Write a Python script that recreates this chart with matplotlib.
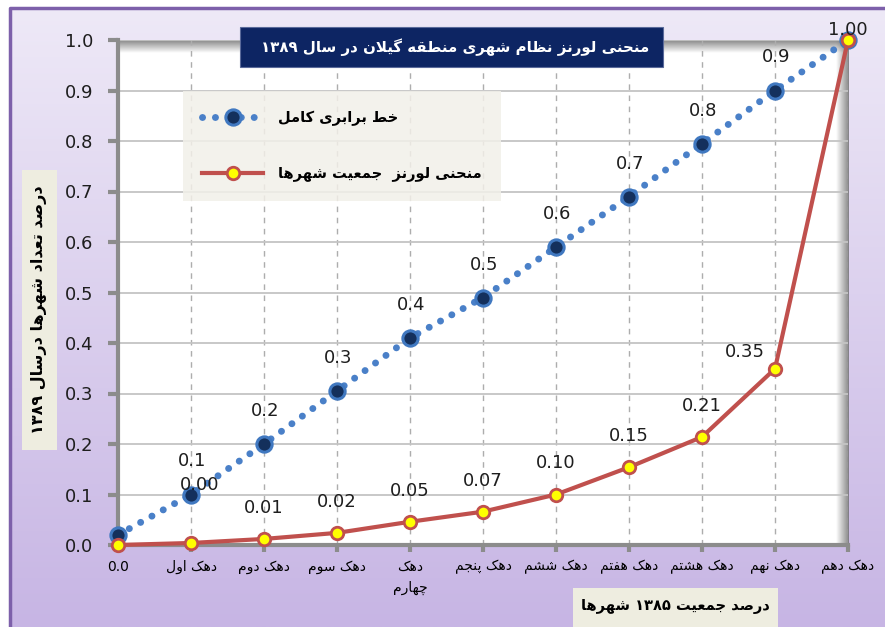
import re
import numpy as np
import matplotlib
matplotlib.use("Agg")
import matplotlib.pyplot as plt
from matplotlib.patches import Rectangle
from matplotlib.colors import LinearSegmentedColormap

# chart values
categories = ["0.0", "دهک اول", "دهک دوم", "دهک سوم", "دهک\nچهارم", "دهک پنجم",
              "دهک ششم", "دهک هفتم", "دهک هشتم", "دهک نهم", "دهک دهم"]
equality = [0.02, 0.10, 0.20, 0.305, 0.41, 0.49, 0.59, 0.69, 0.795, 0.90, 1.00]
lorenz = [0.0, 0.004, 0.012, 0.024, 0.046, 0.066, 0.10, 0.154, 0.214, 0.349, 1.00]
equality_labelled = [1, 2, 3, 4, 5, 6, 7, 8, 9]
lorenz_labelled = [1, 2, 3, 4, 5, 6, 7, 8, 9, 10]
yticks = [0.0, 0.1, 0.2, 0.3, 0.4, 0.5, 0.6, 0.7, 0.8, 0.9, 1.0]

title = "منحنی لورنز نظام شهری منطقه گیلان در سال ۱۳۸۹"
name_equality = "خط برابری کامل"
name_lorenz = "منحنی لورنز  جمعیت شهرها"
xlabel = "درصد جمعیت ۱۳۸۵ شهرها"
ylabel = "درصد تعداد شهرها درسال ۱۳۸۹"

# arabic presentation forms: isolated, final, initial, medial
FORMS = {
    'ا': (0xFE8D, 0xFE8E), 'آ': (0xFE81, 0xFE82),
    'ب': (0xFE8F, 0xFE90, 0xFE91, 0xFE92), 'پ': (0xFB56, 0xFB57, 0xFB58, 0xFB59),
    'ت': (0xFE95, 0xFE96, 0xFE97, 0xFE98), 'ث': (0xFE99, 0xFE9A, 0xFE9B, 0xFE9C),
    'ج': (0xFE9D, 0xFE9E, 0xFE9F, 0xFEA0), 'چ': (0xFB7A, 0xFB7B, 0xFB7C, 0xFB7D),
    'ح': (0xFEA1, 0xFEA2, 0xFEA3, 0xFEA4), 'خ': (0xFEA5, 0xFEA6, 0xFEA7, 0xFEA8),
    'د': (0xFEA9, 0xFEAA), 'ذ': (0xFEAB, 0xFEAC), 'ر': (0xFEAD, 0xFEAE),
    'ز': (0xFEAF, 0xFEB0), 'ژ': (0xFB8A, 0xFB8B),
    'س': (0xFEB1, 0xFEB2, 0xFEB3, 0xFEB4), 'ش': (0xFEB5, 0xFEB6, 0xFEB7, 0xFEB8),
    'ص': (0xFEB9, 0xFEBA, 0xFEBB, 0xFEBC), 'ط': (0xFEC1, 0xFEC2, 0xFEC3, 0xFEC4),
    'ظ': (0xFEC5, 0xFEC6, 0xFEC7, 0xFEC8), 'ع': (0xFEC9, 0xFECA, 0xFECB, 0xFECC),
    'ف': (0xFED1, 0xFED2, 0xFED3, 0xFED4), 'ق': (0xFED5, 0xFED6, 0xFED7, 0xFED8),
    'ک': (0xFB8E, 0xFB8F, 0xFB90, 0xFB91), 'گ': (0xFB92, 0xFB93, 0xFB94, 0xFB95),
    'ل': (0xFEDD, 0xFEDE, 0xFEDF, 0xFEE0), 'م': (0xFEE1, 0xFEE2, 0xFEE3, 0xFEE4),
    'ن': (0xFEE5, 0xFEE6, 0xFEE7, 0xFEE8), 'ه': (0xFEE9, 0xFEEA, 0xFEEB, 0xFEEC),
    'و': (0xFEED, 0xFEEE), 'ی': (0xFBFC, 0xFBFD, 0xFBFE, 0xFBFF),
}


def shape_line(line):
    res = []
    i = 0
    n = len(line)
    while i < n:
        c = line[i]
        if c not in FORMS:
            res.append(c)
            i += 1
            continue
        prev = line[i - 1] if i > 0 else ''
        link_prev = prev in FORMS and len(FORMS[prev]) == 4
        if c == 'ل' and i + 1 < n and line[i + 1] == 'ا':
            res.append('\uFEFC' if link_prev else '\uFEFB')
            i += 2
            continue
        nxt = line[i + 1] if i + 1 < n else ''
        link_next = len(FORMS[c]) == 4 and nxt in FORMS
        f = FORMS[c]
        if link_prev and link_next:
            g = f[3]
        elif link_prev:
            g = f[1]
        elif link_next:
            g = f[2]
        else:
            g = f[0]
        res.append(chr(g))
        i += 1
    s = ''.join(res)[::-1]
    # numbers stay left to right
    return re.sub(r'[0-9\u06F0-\u06F9.]+', lambda m: m.group(0)[::-1], s)


def fa(text):
    if not any(ch in FORMS for ch in text):
        return text
    return '\n'.join(shape_line(l) for l in text.split('\n'))


W, H = 885, 627


def fx(x):
    return x / W


def fy(y):
    return 1 - y / H


plt.rcParams['font.family'] = ['DejaVu Sans']
fig = plt.figure(figsize=(W / 100, H / 100), dpi=100)

# lavender background with purple border
bg = fig.add_axes([0, 0, 1, 1], zorder=-5)
bg.set_xlim(0, W)
bg.set_ylim(H, 0)
bg.axis('off')
grad = np.linspace(0, 1, 256)[:, None]
bg_cmap = LinearSegmentedColormap.from_list('bg', ['#eee9f7', '#c7b5e4'])
bg.imshow(grad, extent=(10, W, H, 8), aspect='auto', cmap=bg_cmap)
bg.plot([10, 10, W], [H, 8, 8], color='#7d60aa', lw=2.5, solid_capstyle='butt')

ax = fig.add_axes([fx(118), fy(545), (848 - 118) / W, (545 - 40) / H])
ax.set_facecolor('white')
x = np.arange(len(categories))

# 3d-ish shading along the top and right edges of the plot area
top_sh = np.zeros((60, 1, 4))
top_sh[..., :3] = 0.45
top_sh[:, 0, 3] = np.linspace(0.85, 0, 60)
ax.imshow(top_sh, extent=(0, 10, 0.975, 1.0), aspect='auto', zorder=0.3)
right_sh = np.zeros((1, 60, 4))
right_sh[..., :3] = 0.45
right_sh[0, :, 3] = np.linspace(0, 0.85, 60)
ax.imshow(right_sh, extent=(9.83, 10, 0, 1.0), aspect='auto', zorder=0.3)

ax.plot(x, equality, color='#4a80c8', lw=5, ls=(0, (0.01, 1.85)),
        dash_capstyle='round', marker='o', ms=11, mfc='#14305c',
        mec='#4078c0', mew=2.2, clip_on=False, zorder=3, label=fa(name_equality))
ax.plot(x, lorenz, color='#c0504d', lw=3, marker='o', ms=9, mfc='#ffff00',
        mec='#c0504d', mew=2, clip_on=False, zorder=4, label=fa(name_lorenz))

lorenz_offsets = {1: (9, 58), 9: (-30, 17), 10: (0, 10)}
for i in equality_labelled:
    ax.annotate('{:.1f}'.format(equality[i]), (x[i], equality[i]), xytext=(1, 33),
                textcoords='offset pixels', ha='center', va='center',
                fontsize=13, color='#1e1e1e', zorder=5)
for i in lorenz_labelled:
    ax.annotate('{:.2f}'.format(lorenz[i]), (x[i], lorenz[i]),
                xytext=lorenz_offsets.get(i, (0, 31)),
                textcoords='offset pixels', ha='center', va='center',
                fontsize=13, color='#1e1e1e', zorder=5, annotation_clip=False)

ax.set_xlim(0, 10)
ax.set_ylim(0, 1)
ax.set_xticks(x)
ax.set_xticklabels([fa(c) for c in categories], fontsize=10, linespacing=1.6)
ax.set_yticks(yticks)
ax.set_yticklabels(['{:.1f}'.format(v) for v in yticks], fontsize=13, color='#1e1e1e')
ax.tick_params(axis='x', length=5, width=3, color='#8c8c8c', pad=6)
ax.tick_params(axis='y', length=7, width=3, color='#8c8c8c', pad=11)
ax.set_axisbelow(True)
ax.yaxis.grid(True, color='#c4c4c4', lw=1.3)
ax.xaxis.grid(True, color='#adadad', lw=1, ls=(0, (4, 4)))
for s in ['top', 'right']:
    ax.spines[s].set_visible(False)
for s in ['left', 'bottom']:
    ax.spines[s].set_color('#8c8c8c')
    ax.spines[s].set_linewidth(3)

leg = ax.legend(loc='upper left', bbox_to_anchor=(fx(183), fy(91)),
                bbox_transform=fig.transFigure, borderaxespad=0, fancybox=False,
                prop={'weight': 'bold', 'size': 10.5}, handlelength=4.2,
                handletextpad=1.0, borderpad=1.3, labelspacing=2.75, numpoints=1)
leg.get_frame().set_facecolor('#f2f0e9')
leg.get_frame().set_edgecolor('none')
leg.get_frame().set_alpha(0.85)
leg.set_zorder(6)

# title box
fig.add_artist(Rectangle((fx(240), fy(67)), (663 - 240) / W, 40 / H,
                         transform=fig.transFigure, facecolor='#0d2563',
                         edgecolor='#5a6a9a', lw=0.8, zorder=10))
fig.text(fx(455), fy(47), fa(title), color='white', fontsize=10.8, weight='bold',
         ha='center', va='center', zorder=11)

# axis title boxes
fig.add_artist(Rectangle((fx(22), fy(450)), 35 / W, 280 / H, transform=fig.transFigure,
                         facecolor='#eeede0', edgecolor='none', zorder=10))
fig.text(fx(39.5), fy(310), fa(ylabel), rotation=90, fontsize=11.5, weight='bold',
         ha='center', va='center', zorder=11)
fig.add_artist(Rectangle((fx(573), fy(627)), 205 / W, 39 / H, transform=fig.transFigure,
                         facecolor='#eeede0', edgecolor='none', zorder=10))
fig.text(fx(675), fy(607), fa(xlabel), fontsize=10.5, weight='bold',
         ha='center', va='center', zorder=11)

fig.savefig('out.png', dpi=100)
